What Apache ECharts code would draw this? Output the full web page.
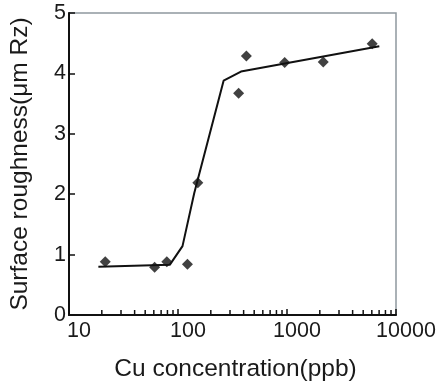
<!DOCTYPE html>
<html>
<head>
<meta charset="utf-8">
<script src="https://cdn.jsdelivr.net/npm/echarts@6/dist/echarts.min.js"></script>
<style>
  html, body { margin: 0; padding: 0; background: #fff; }
  #chart { width: 443px; height: 387px; }
</style>
</head>
<body>
<div id="chart"></div>
<script>
// measured points (Cu ppb, roughness um Rz)
const pointX = [21.5, 61, 79, 122, 152, 360, 424, 952, 2150, 6050];
const pointY = [0.88, 0.79, 0.88, 0.84, 2.19, 3.67, 4.29, 4.18, 4.19, 4.49];

// fitted trend line vertices
const lineX = [18.6, 84, 110, 141, 262, 378, 7030];
const lineY = [0.80, 0.83, 1.14, 2.02, 3.88, 4.03, 4.45];

const minorTicks = [20, 30, 40, 50, 60, 70, 80, 90,
  200, 300, 400, 500, 600, 700, 800, 900,
  2000, 3000, 4000, 5000, 6000, 7000, 8000, 9000];

const font = '"Liberation Sans", Arial, sans-serif';
const textColor = '#1a1a1a';

const chart = echarts.init(document.getElementById('chart'));

chart.setOption({
  backgroundColor: '#fff',
  animation: false,
  grid: {
    left: 68, right: 47, top: 13, bottom: 69,
    show: true, borderColor: '#8f989f', borderWidth: 1.5
  },
  xAxis: {
    type: 'log',
    logBase: 10,
    min: 10,
    max: 10000,
    name: 'Cu concentration(ppb)',
    nameLocation: 'middle',
    nameGap: 42,
    nameTextStyle: { fontFamily: font, fontSize: 24.5, color: textColor, padding: [0, 0, 0, 6] },
    axisLine: { lineStyle: { color: '#111', width: 2 } },
    axisTick: { inside: true, length: 6, lineStyle: { color: '#111', width: 1.5 } },
    splitLine: { show: false },
    axisLabel: {
      fontFamily: font, fontSize: 21.5, color: textColor, margin: 5,
      padding: [0, 0, 0, 20],
      formatter: v => String(Math.round(v))
    }
  },
  yAxis: {
    type: 'value',
    min: 0,
    max: 5,
    interval: 1,
    name: 'Surface roughness(\u03bcm Rz)',
    nameLocation: 'middle',
    nameGap: 36,
    nameTextStyle: { fontFamily: font, fontSize: 24.5, color: textColor },
    axisLine: { show: true, lineStyle: { color: '#111', width: 2 } },
    axisTick: { show: true, inside: true, length: 6, lineStyle: { color: '#111', width: 1.5 } },
    splitLine: { show: false },
    axisLabel: { fontFamily: font, fontSize: 21.5, color: textColor, margin: 3 }
  },
  series: [
    {
      type: 'custom',
      silent: true,
      data: minorTicks.map(v => [v, 0]),
      renderItem: (params, api) => {
        const p = api.coord([api.value(0), 0]);
        return {
          type: 'line',
          shape: { x1: p[0], y1: p[1], x2: p[0], y2: p[1] - 5 },
          style: { stroke: '#111', lineWidth: 1.5 }
        };
      }
    },
    {
      type: 'line',
      data: lineX.map((x, i) => [x, lineY[i]]),
      showSymbol: false,
      lineStyle: { color: '#111', width: 2 },
      z: 3
    },
    {
      type: 'scatter',
      data: pointX.map((x, i) => [x, pointY[i]]),
      symbol: 'diamond',
      symbolSize: 11,
      itemStyle: { color: '#111' },
      z: 4
    }
  ]
});
</script>
</body>
</html>
